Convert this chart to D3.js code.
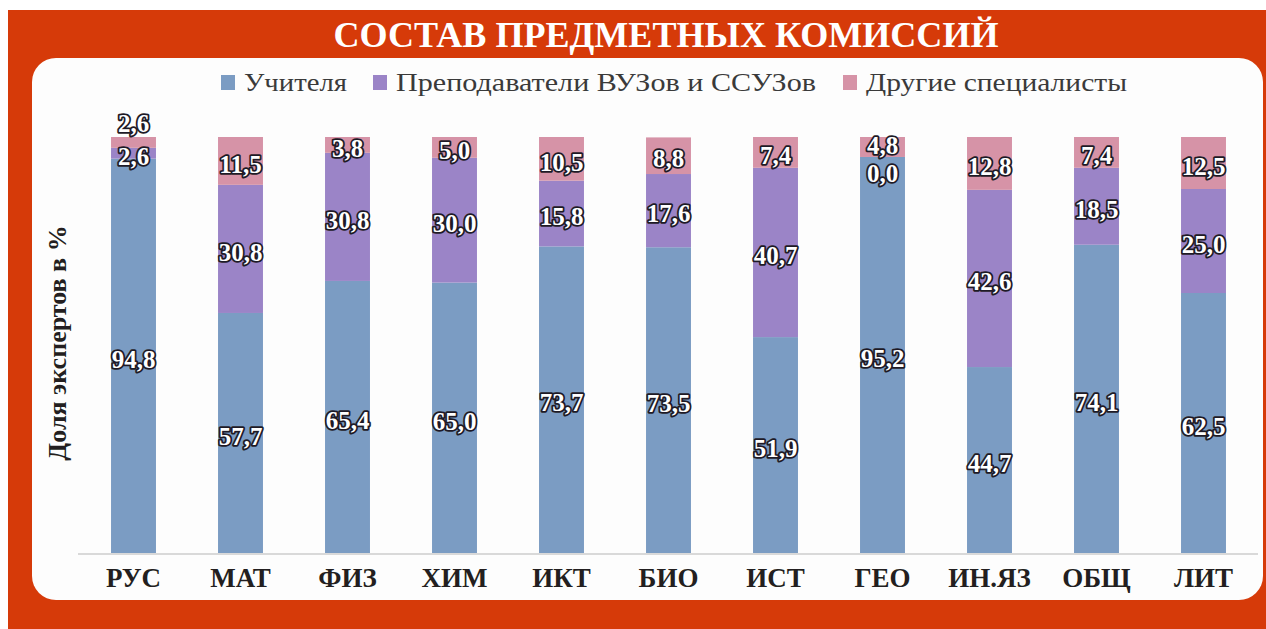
<!DOCTYPE html>
<html>
<head>
<meta charset="utf-8">
<script src="https://cdn.jsdelivr.net/npm/d3@7"></script>
<style>
  html, body { margin: 0; padding: 0; background: #fff; }
  svg { display: block; }
  svg text { font-family: "Liberation Serif", "Times New Roman", "DejaVu Serif", serif; }
</style>
</head>
<body>
<svg id="chart" width="1266" height="629"></svg>
<script>
// data
var subjects = ["РУС", "МАТ", "ФИЗ", "ХИМ", "ИКТ", "БИО", "ИСТ", "ГЕО", "ИН.ЯЗ", "ОБЩ", "ЛИТ"];
var teachers = [94.8, 57.7, 65.4, 65.0, 73.7, 73.5, 51.9, 95.2, 44.7, 74.1, 62.5];
var lecturers = [2.6, 30.8, 30.8, 30.0, 15.8, 17.6, 40.7, 0.0, 42.6, 18.5, 25.0];
var others = [2.6, 11.5, 3.8, 5.0, 10.5, 8.8, 7.4, 4.8, 12.8, 7.4, 12.5];
var seriesNames = ["Учителя", "Преподаватели ВУЗов и ССУЗов", "Другие специалисты"];
var seriesColors = ["#7b9cc3", "#9b84c7", "#d693a7"];

var svg = d3.select("#chart");
var W = 1266, H = 629;

// red frame + white rounded panel
svg.append("rect").attr("x", 8).attr("y", 10).attr("width", W - 8).attr("height", H - 10).attr("fill", "#d63a09");
svg.append("rect").attr("x", 32).attr("y", 58).attr("width", 1231).attr("height", 542)
    .attr("rx", 24).attr("fill", "#fdfdfd");

svg.append("text")
    .attr("x", 666).attr("y", 47)
    .attr("text-anchor", "middle")
    .attr("font-weight", "bold").attr("font-size", 36)
    .attr("textLength", 665).attr("lengthAdjust", "spacingAndGlyphs")
    .attr("fill", "#fff")
    .text("СОСТАВ ПРЕДМЕТНЫХ КОМИССИЙ");

// build stacked table
var table = subjects.map(function(s, i) {
    return {subject: s, t: teachers[i], l: lecturers[i], o: others[i]};
});
var stack = d3.stack().keys(["t", "l", "o"]);
var layers = stack(table);

var x = d3.scaleBand().domain(subjects).range([80, 1257]).paddingInner(0.58).paddingOuter(0.29);
var y = d3.scaleLinear().domain([0, 100]).range([553, 137]);

var g = svg.append("g");

layers.forEach(function(layer, k) {
    g.selectAll(".bar" + k)
        .data(layer)
        .enter().append("rect")
        .attr("x", function(d) { return x(d.data.subject); })
        .attr("width", x.bandwidth())
        .attr("y", function(d) { return y(Math.min(d[1], 100)); })
        .attr("height", function(d) { return y(d[0]) - y(Math.min(d[1], 100)); })
        .attr("fill", seriesColors[k]);
});

// axis baseline
g.append("line")
    .attr("x1", 78).attr("x2", 1258)
    .attr("y1", y(0) + 1).attr("y2", y(0) + 1)
    .attr("stroke", "#d9d9d9").attr("stroke-width", 2);

// x axis labels
var xAxis = d3.axisBottom(x).tickSize(0).tickPadding(13);
var ax = g.append("g").attr("transform", "translate(0," + (y(0) + 2) + ")").call(xAxis);
ax.select(".domain").remove();
ax.selectAll("text")
    .attr("font-family", null)
    .attr("font-weight", "bold").attr("font-size", 27)
    .attr("fill", "#231f20");

// value labels
var labels = [];
table.forEach(function(d, i) {
    var mids = layers.map(function(layer) {
        return (y(layer[i][0]) + y(Math.min(layer[i][1], 100))) / 2 + 3;
    });
    // small segments collide at the top of the bar
    if (mids[1] - mids[2] < 22) {
        if (lecturers[i] === 0) {
            mids[2] -= 5;
            mids[1] = mids[2] + 28;
        } else {
            mids[2] = mids[1] - 33;
        }
    }
    [d.t, d.l, d.o].forEach(function(v, k) {
        labels.push({x: x(d.subject) + x.bandwidth() / 2, y: mids[k], v: v});
    });
});

var fmt = function(v) { return d3.format(".1f")(v).replace(".", ","); };

g.selectAll(".val")
    .data(labels)
    .enter().append("text")
    .attr("class", "val")
    .attr("x", function(d) { return d.x; })
    .attr("y", function(d) { return d.y; })
    .attr("dy", "0.35em")
    .attr("text-anchor", "middle")
    .attr("font-weight", "bold").attr("font-size", 25)
    .attr("fill", "#fff")
    .attr("stroke", "#1e1a26").attr("stroke-width", 3.6)
    .attr("paint-order", "stroke")
    .attr("stroke-linejoin", "round")
    .text(function(d) { return fmt(d.v); });

// legend
var legendX = [221, 373, 843];
var legendW = [103, 420, 261];
var legend = svg.append("g");
seriesNames.forEach(function(name, k) {
    legend.append("rect")
        .attr("x", legendX[k]).attr("y", 75).attr("width", 14).attr("height", 15)
        .attr("fill", seriesColors[k]);
    legend.append("text")
        .attr("x", legendX[k] + 23).attr("y", 91)
        .attr("font-size", 26)
        .attr("textLength", legendW[k]).attr("lengthAdjust", "spacingAndGlyphs")
        .attr("fill", "#3a3a3a")
        .text(name);
});

// y axis title
svg.append("text")
    .attr("transform", "translate(66,343) rotate(-90)")
    .attr("text-anchor", "middle")
    .attr("font-weight", "bold").attr("font-size", 26)
    .attr("fill", "#231f20")
    .text("Доля экспертов в %");
</script>
</body>
</html>
